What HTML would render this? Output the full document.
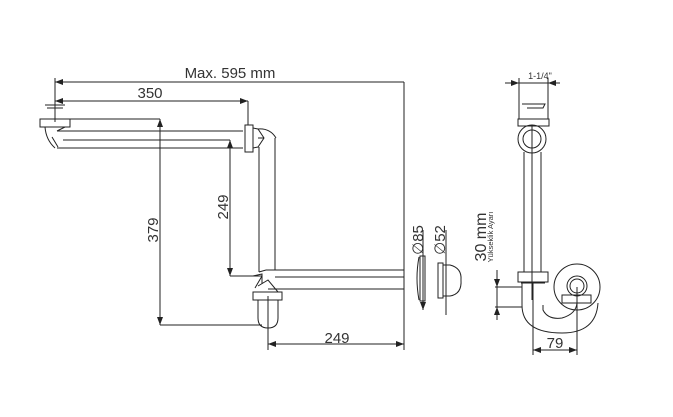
<!DOCTYPE html>
<html><head><style>body{margin:0;background:#fff}svg{display:block}text{font-family:"Liberation Sans",sans-serif;fill:#333}</style></head><body>
<svg width="673" height="417" viewBox="0 0 673 417" xmlns="http://www.w3.org/2000/svg">
<defs><marker id="a" markerWidth="8" markerHeight="6" refX="8" refY="3" orient="auto-start-reverse" markerUnits="userSpaceOnUse"><path d="M0,0L8,3L0,6z" fill="#222"/></marker></defs>
<g stroke="#222" stroke-width="1" fill="none">
<line x1="55" y1="78" x2="55" y2="122"/>
<line x1="55" y1="82" x2="404" y2="82" marker-start="url(#a)"/>
<line x1="404" y1="82" x2="404" y2="300"/>
<line x1="55" y1="101" x2="248" y2="101" marker-start="url(#a)" marker-end="url(#a)"/>
<line x1="248" y1="101" x2="248" y2="125"/>
<line x1="160" y1="119" x2="160" y2="325" marker-start="url(#a)" marker-end="url(#a)"/>
<line x1="160" y1="325" x2="262" y2="325"/>
<line x1="230" y1="140" x2="230" y2="276" marker-start="url(#a)" marker-end="url(#a)"/>
<line x1="230" y1="276" x2="262" y2="276"/>
<line x1="268" y1="300" x2="268" y2="350"/>
<line x1="268" y1="344" x2="404" y2="344" marker-start="url(#a)" marker-end="url(#a)"/>
<line x1="404" y1="300" x2="404" y2="350"/>
<line x1="45" y1="105" x2="65" y2="105"/><line x1="47" y1="108" x2="63" y2="108"/>
<rect x="40" y="119" width="30" height="8"/>
<line x1="70" y1="119" x2="160" y2="119"/>
<path d="M45,127 Q46,140 55,148 M57,131 L65,127 M52,137 L58,147"/>
<line x1="57" y1="131" x2="243" y2="131"/>
<line x1="63" y1="140" x2="230" y2="140"/>
<line x1="57" y1="148" x2="243" y2="148"/>
<rect x="245" y="125" width="8" height="27"/>
<path d="M253,128 L258,129 L264,138 L258,147 L253,148 M258,129 Q270,128 276,138 M258,138 L264,138"/>
<line x1="259" y1="147" x2="259" y2="272"/>
<line x1="275" y1="138" x2="275" y2="270"/>
<line x1="266" y1="270" x2="404" y2="270"/>
<line x1="275" y1="277" x2="404" y2="277"/>
<line x1="268" y1="289" x2="404" y2="289"/>
<line x1="404" y1="270" x2="404" y2="289"/>
<path d="M253,276 L262,274 L262,284 M259,272 L266,270 M258,286 L268,280 L278,292 M255,288 L262,276"/>
<rect x="253" y="292" width="29" height="8"/>
<path d="M258,300 L258,318 Q258,328 268,328 Q278,328 278,318 L278,300"/>
<line x1="268" y1="296" x2="268" y2="330"/>
<line x1="423" y1="230" x2="423" y2="310" marker-end="url(#a)"/>
<path d="M419,257 Q415,278 419,300" />
<rect x="420" y="256" width="5" height="45"/>
<line x1="446" y1="230" x2="446" y2="315"/>
<rect x="438" y="263" width="5" height="35"/>
<path d="M443,265 L450,265 Q462,268 461,280 Q462,294 450,296 L443,296"/>
<line x1="519" y1="78" x2="519" y2="119"/><line x1="548" y1="78" x2="548" y2="119"/>
<line x1="505" y1="83" x2="519" y2="83" marker-end="url(#a)"/>
<line x1="548" y1="83" x2="560" y2="83" marker-start="url(#a)"/>
<line x1="519" y1="83" x2="548" y2="83"/>
<path d="M522,104 L545,104 L543,108 L527,108"/>
<rect x="518" y="119" width="31" height="7"/>
<circle cx="532" cy="139" r="14"/><circle cx="532" cy="139" r="9"/>
<line x1="524" y1="152" x2="524" y2="272"/><line x1="541" y1="152" x2="541" y2="272"/>
<line x1="532" y1="125" x2="532" y2="300"/>
<rect x="518" y="272" width="30" height="10"/>
<line x1="521" y1="283" x2="545" y2="283"/>
<path d="M522,283 L522,305 Q522,333 562,333 Q596,333 598,303"/>
<path d="M543,305 L543,310 Q548,320 562,318 Q576,314 577,303"/>
<circle cx="577" cy="287" r="23"/><circle cx="577" cy="286" r="10"/><circle cx="577" cy="286" r="7"/>
<rect x="562" y="295" width="29" height="8"/>
<line x1="533" y1="283" x2="533" y2="355"/><line x1="577" y1="287" x2="577" y2="355"/>
<line x1="533" y1="350" x2="577" y2="350" marker-start="url(#a)" marker-end="url(#a)"/>
<line x1="495" y1="287" x2="522" y2="287"/><line x1="495" y1="307" x2="522" y2="307"/>
<line x1="497" y1="270" x2="497" y2="287" marker-end="url(#a)"/>
<line x1="497" y1="320" x2="497" y2="307" marker-end="url(#a)"/>
<line x1="497" y1="287" x2="497" y2="307"/>
</g>
<g font-size="15">
<text x="230" y="78" text-anchor="middle">Max. 595 mm</text>
<text x="150" y="98" text-anchor="middle">350</text>
<text x="337" y="343" text-anchor="middle">249</text>
<text transform="translate(158,230) rotate(-90)" text-anchor="middle">379</text>
<text transform="translate(228,207) rotate(-90)" text-anchor="middle">249</text>
<text transform="translate(423,240) rotate(-90)" text-anchor="middle">∅85</text>
<text transform="translate(445,240) rotate(-90)" text-anchor="middle">∅52</text>
<text transform="translate(486,237) rotate(-90)" text-anchor="middle" font-size="16">30 mm</text>
<text x="555" y="348" text-anchor="middle">79</text>
</g>
<text transform="translate(493,237) rotate(-90)" text-anchor="middle" font-size="7.5">Yükseklik Ayarı</text>
<text x="540" y="79" text-anchor="middle" font-size="9">1-1/4"</text>
</svg>
</body></html>
